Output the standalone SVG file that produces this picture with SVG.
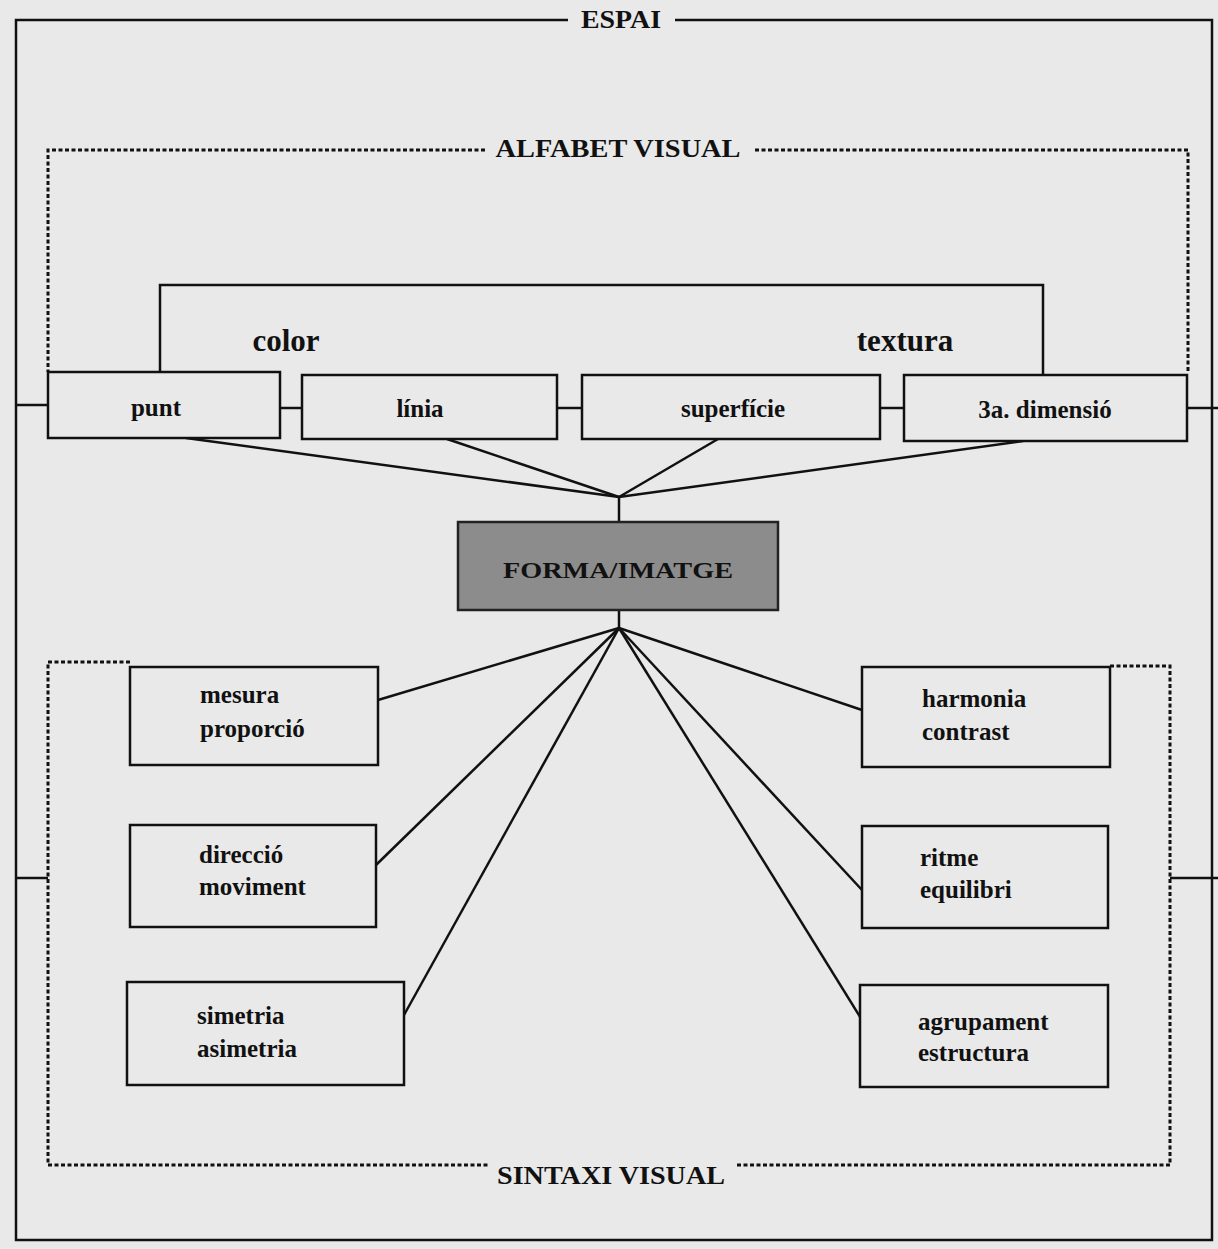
<svg xmlns="http://www.w3.org/2000/svg" width="1218" height="1249" viewBox="0 0 1218 1249">
<style>
.bg{fill:#e9e9e9}
.ln{stroke:#111;stroke-width:2.5;fill:none}
.dash{stroke:#111;stroke-width:3;fill:none;stroke-dasharray:4 2.5}
.box{fill:#e9e9e9;stroke:#111;stroke-width:2.5}
.dark{fill:#8c8c8c;stroke:#222;stroke-width:2.5}
.t{font-family:"Liberation Serif","DejaVu Serif",serif;font-weight:bold;fill:#111}
.lbl{font-size:25px}
.big{font-size:31px}
.ttl{font-size:25px}
</style>
<rect class="bg" x="0" y="0" width="1218" height="1249"/>

<g id="espai">
  <path class="ln" d="M568,20 H16 V1240 H1212 V20 H675"/>
  <text class="t ttl" x="621" y="28" text-anchor="middle" textLength="80" lengthAdjust="spacingAndGlyphs">ESPAI</text>
</g>

<g id="alfabet-visual">
  <path class="dash" d="M485,150 H48 V372"/>
  <path class="dash" d="M755,150 H1188 V372"/>
  <text class="t ttl" x="618" y="157" text-anchor="middle" textLength="245" lengthAdjust="spacingAndGlyphs">ALFABET VISUAL</text>
</g>

<g id="sintaxi-visual">
  <path class="dash" d="M130,662 H48 V1165 H490"/>
  <path class="dash" d="M1110,666 H1170 V1165 H735"/>
  <text class="t ttl" x="611" y="1184" text-anchor="middle" textLength="228" lengthAdjust="spacingAndGlyphs">SINTAXI VISUAL</text>
</g>

<g id="connectors">
  <path class="ln" d="M160,372 V285 H1043 V375"/>
  <line class="ln" x1="16" y1="405" x2="48" y2="405"/>
  <line class="ln" x1="280" y1="408" x2="302" y2="408"/>
  <line class="ln" x1="557" y1="408" x2="582" y2="408"/>
  <line class="ln" x1="880" y1="408" x2="904" y2="408"/>
  <line class="ln" x1="1187" y1="408" x2="1218" y2="408"/>
  <line class="ln" x1="16" y1="878" x2="48" y2="878"/>
  <line class="ln" x1="1170" y1="878" x2="1218" y2="878"/>
  <line class="ln" x1="186" y1="438" x2="619" y2="497"/>
  <line class="ln" x1="447" y1="439" x2="619" y2="497"/>
  <line class="ln" x1="718" y1="439" x2="619" y2="497"/>
  <line class="ln" x1="1023" y1="441" x2="619" y2="497"/>
  <line class="ln" x1="619" y1="497" x2="619" y2="522"/>
  <line class="ln" x1="619" y1="610" x2="619" y2="628"/>
  <line class="ln" x1="619" y1="628" x2="378" y2="700"/>
  <line class="ln" x1="619" y1="628" x2="376" y2="865"/>
  <line class="ln" x1="619" y1="628" x2="404" y2="1015"/>
  <line class="ln" x1="619" y1="628" x2="862" y2="710"/>
  <line class="ln" x1="619" y1="628" x2="862" y2="890"/>
  <line class="ln" x1="619" y1="628" x2="862" y2="1020"/>
</g>

<g id="color"><text class="t big" x="286" y="351" text-anchor="middle">color</text></g>
<g id="textura"><text class="t big" x="905" y="351" text-anchor="middle">textura</text></g>

<g id="punt">
  <rect class="box" x="48" y="372" width="232" height="66"/>
  <text class="t lbl" x="156" y="416" text-anchor="middle">punt</text>
</g>
<g id="linia">
  <rect class="box" x="302" y="375" width="255" height="64"/>
  <text class="t lbl" x="420" y="417" text-anchor="middle">línia</text>
</g>
<g id="superficie">
  <rect class="box" x="582" y="375" width="298" height="64"/>
  <text class="t lbl" x="733" y="417" text-anchor="middle">superfície</text>
</g>
<g id="dimensio">
  <rect class="box" x="904" y="375" width="283" height="66"/>
  <text class="t lbl" x="1045" y="418" text-anchor="middle">3a. dimensió</text>
</g>

<g id="forma-imatge">
  <rect class="dark" x="458" y="522" width="320" height="88"/>
  <text class="t" x="618" y="578" text-anchor="middle" font-size="23" fill="#1a1a1a" textLength="230" lengthAdjust="spacingAndGlyphs">FORMA/IMATGE</text>
</g>

<g id="mesura">
  <rect class="box" x="130" y="667" width="248" height="98"/>
  <text class="t lbl" x="200" y="703">mesura</text>
  <text class="t lbl" x="200" y="737">proporció</text>
</g>
<g id="direccio">
  <rect class="box" x="130" y="825" width="246" height="102"/>
  <text class="t lbl" x="199" y="863">direcció</text>
  <text class="t lbl" x="199" y="895">moviment</text>
</g>
<g id="simetria">
  <rect class="box" x="127" y="982" width="277" height="103"/>
  <text class="t lbl" x="197" y="1024">simetria</text>
  <text class="t lbl" x="197" y="1057">asimetria</text>
</g>
<g id="harmonia">
  <rect class="box" x="862" y="667" width="248" height="100"/>
  <text class="t lbl" x="922" y="707">harmonia</text>
  <text class="t lbl" x="922" y="740">contrast</text>
</g>
<g id="ritme">
  <rect class="box" x="862" y="826" width="246" height="102"/>
  <text class="t lbl" x="920" y="866">ritme</text>
  <text class="t lbl" x="920" y="898">equilibri</text>
</g>
<g id="agrupament">
  <rect class="box" x="860" y="985" width="248" height="102"/>
  <text class="t lbl" x="918" y="1030">agrupament</text>
  <text class="t lbl" x="918" y="1061">estructura</text>
</g>
</svg>
